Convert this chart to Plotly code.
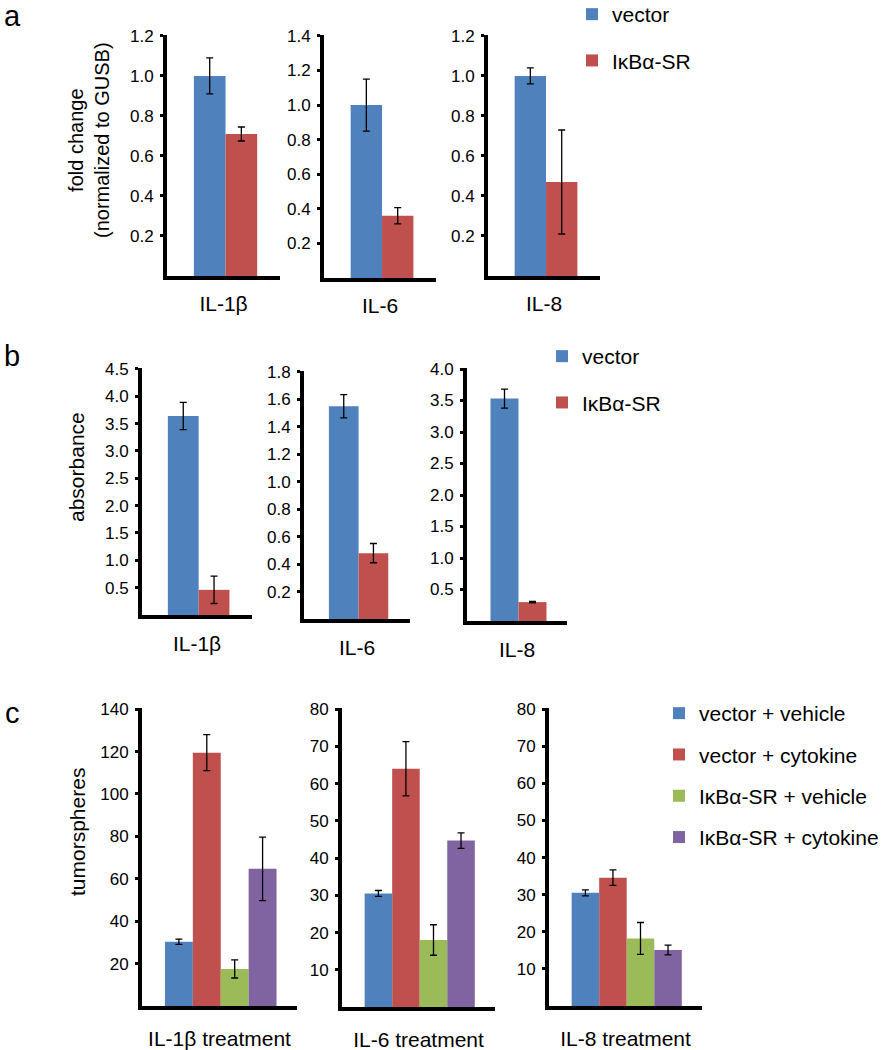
import plotly.graph_objects as go

W, H = 888, 1050
FONT = "Liberation Sans, Arial, sans-serif"

# ---------------- data ----------------
a_cats = ["IL-1β", "IL-6", "IL-8"]
a_vector = [1.00, 1.00, 1.00]
a_vector_err = [0.09, 0.15, 0.04]
a_sr = [0.71, 0.36, 0.47]
a_sr_err = [0.035, 0.047, 0.26]
a_ticks = [[0.2, 0.4, 0.6, 0.8, 1.0, 1.2],
           [0.2, 0.4, 0.6, 0.8, 1.0, 1.2, 1.4],
           [0.2, 0.4, 0.6, 0.8, 1.0, 1.2]]

b_cats = ["IL-1β", "IL-6", "IL-8"]
b_vector = [3.64, 1.55, 3.53]
b_vector_err = [0.25, 0.085, 0.15]
b_sr = [0.46, 0.48, 0.30]
b_sr_err = [0.25, 0.07, 0.01]
b_ticks = [[0.5, 1.0, 1.5, 2.0, 2.5, 3.0, 3.5, 4.0, 4.5],
           [0.2, 0.4, 0.6, 0.8, 1.0, 1.2, 1.4, 1.6, 1.8],
           [0.5, 1.0, 1.5, 2.0, 2.5, 3.0, 3.5, 4.0]]

c_cats = ["IL-1β treatment", "IL-6 treatment", "IL-8 treatment"]
c_vec_veh = [30.3, 30.5, 30.5]
c_vec_veh_err = [1.2, 0.8, 0.8]
c_vec_cyt = [119.5, 64.0, 34.6]
c_vec_cyt_err = [8.5, 7.3, 2.1]
c_sr_veh = [17.5, 18.0, 18.2]
c_sr_veh_err = [4.3, 4.1, 4.3]
c_sr_cyt = [64.7, 44.7, 15.1]
c_sr_cyt_err = [15.0, 2.1, 1.3]
c_ticks = [[20, 40, 60, 80, 100, 120, 140],
           [10, 20, 30, 40, 50, 60, 70, 80],
           [10, 20, 30, 40, 50, 60, 70, 80]]

ab_names = ["vector", "IκBα-SR"]
c_names = ["vector + vehicle", "vector + cytokine", "IκBα-SR + vehicle", "IκBα-SR + cytokine"]
ab_colors = ["#4F81BD", "#C0504D"]
c_colors = ["#4F81BD", "#C0504D", "#9BBB59", "#8064A2"]

# ---------------- layout geometry (page pixels) ----------------
# (left, right, top, bottom) of each plotting area
boxes = [
    (167, 280, 35, 276), (324, 436, 35, 278), (488, 600, 35, 276),
    (142, 252, 368, 615), (304, 410, 371, 619), (467, 567, 368, 621),
    (142, 297, 708, 1006), (342, 495, 708, 1007), (549, 702, 708, 1006),
]

def px(x):
    return x / W

def py(y):
    return 1 - y / H

fig = go.Figure()

rows = [
    (a_cats, [a_vector, a_sr], [a_vector_err, a_sr_err], ab_names, ab_colors, a_ticks, "legend", ".1f", 0.28, -0.262, 6),
    (b_cats, [b_vector, b_sr], [b_vector_err, b_sr_err], ab_names, ab_colors, b_ticks, "legend2", ".1f", 0.28, -0.265, 7),
    (c_cats, [c_vec_veh, c_vec_cyt, c_sr_veh, c_sr_cyt],
     [c_vec_veh_err, c_vec_cyt_err, c_sr_veh_err, c_sr_cyt_err],
     c_names, c_colors, c_ticks, "legend3", "d", 0.18, -0.352, 11),
]

k = 0
for ri, (cats, series, errs, names, colors, ticks, leg, fmt, bw, left, tl) in enumerate(rows):
    for ci in range(3):
        k += 1
        xa = "x" if k == 1 else f"x{k}"
        ya = "y" if k == 1 else f"y{k}"
        for si, (vals, ev, nm, col) in enumerate(zip(series, errs, names, colors)):
            fig.add_trace(go.Bar(
                x=[cats[ci]], y=[vals[ci]],
                width=bw, offset=left + si * bw,
                marker=dict(color=col, line=dict(width=0)),
                error_y=dict(type="data", array=[ev[ci]], color="black",
                             thickness=1.3, width=3.5),
                name=nm, legend=leg, legendgroup=f"{leg}_{si}",
                showlegend=(ci == 0),
                xaxis=xa, yaxis=ya,
            ))
        l, r, t, b = boxes[k - 1]
        top = ticks[ci][-1]
        fig.layout[f"xaxis{'' if k == 1 else k}"] = dict(
            domain=[px(l), px(r)], anchor=ya, range=[-0.5, 0.5], type="category",
            showline=True, linewidth=4, linecolor="black",
            ticks="outside", ticklen=tl, tickcolor="rgba(0,0,0,0)",
            showgrid=False, zeroline=False, fixedrange=True, automargin=False,
            tickfont=dict(family=FONT, size=21, color="black"),
        )
        fig.layout[f"yaxis{'' if k == 1 else k}"] = dict(
            domain=[py(b), py(t)], anchor=xa, range=[0, top * 1.004],
            showline=True, linewidth=4, linecolor="black",
            ticks="outside", ticklen=3, tickwidth=3, tickcolor="black",
            ticklabelstandoff=3,
            tickvals=ticks[ci], tickformat=fmt,
            showgrid=False, zeroline=False, fixedrange=True, automargin=False,
            tickfont=dict(family=FONT, size=17, color="black"),
        )

leg_common = dict(
    xanchor="left", yanchor="top", bgcolor="rgba(0,0,0,0)",
    font=dict(family=FONT, size=21, color="black"),
    itemclick=False, itemdoubleclick=False,
)
fig.update_layout(
    width=W, height=H,
    margin=dict(l=0, r=0, t=0, b=0, pad=0, autoexpand=False),
    paper_bgcolor="white", plot_bgcolor="white",
    barmode="overlay", showlegend=True, hovermode=False,
    font=dict(family=FONT, color="black"),
    legend=dict(x=px(572), y=py(-6), tracegroupgap=16, **leg_common),
    legend2=dict(x=px(542), y=py(336), tracegroupgap=16, **leg_common),
    legend3=dict(x=px(659), y=py(693), tracegroupgap=11, **leg_common),
)

annots = [
    dict(text="a", x=12, y=16, size=29),
    dict(text="b", x=12, y=356, size=29),
    dict(text="c", x=12, y=713, size=29),
]
for a in annots:
    fig.add_annotation(text=a["text"], x=px(a["x"]), y=py(a["y"]),
                       xref="paper", yref="paper", showarrow=False,
                       xanchor="center", yanchor="middle",
                       font=dict(family=FONT, size=a["size"], color="black"))

titles = [
    ("fold change<br>(normalized to GUSB)", 89, 140, 20),
    ("absorbance", 77, 467, 21),
    ("tumorspheres", 77, 832, 21),
]
for txt, x, y, s in titles:
    fig.add_annotation(text=txt, x=px(x), y=py(y), xref="paper", yref="paper",
                       showarrow=False, textangle=-90, xanchor="center", yanchor="middle",
                       font=dict(family=FONT, size=s, color="black"))

fig.write_html(
    "out.html",
    config={"displayModeBar": False, "staticPlot": True},
    post_script="document.body.style.margin='0px';document.body.style.overflow='hidden';",
)
